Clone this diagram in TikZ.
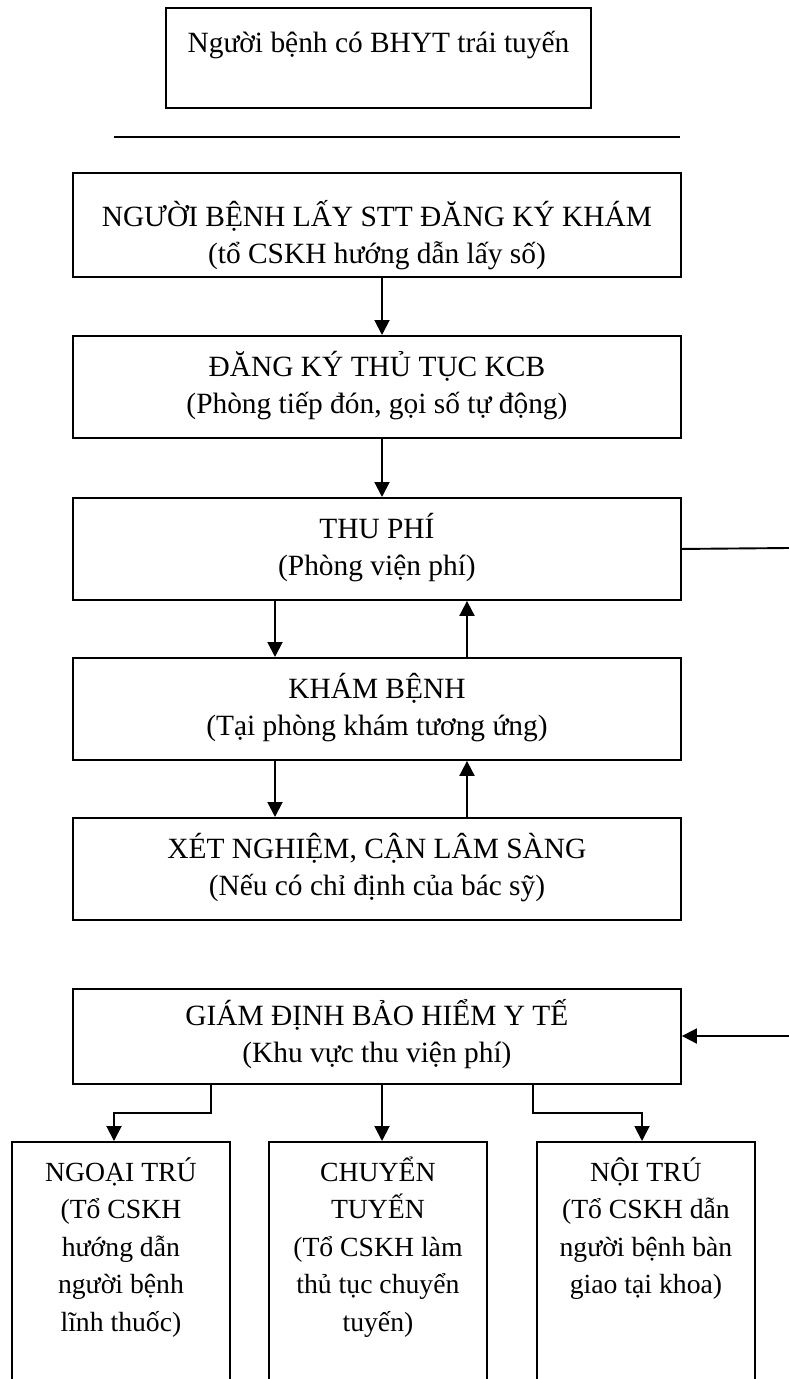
\documentclass[tikz,border=0pt]{standalone}
\usepackage{fontspec}
\setmainfont{Liberation Serif}
\usetikzlibrary{arrows.meta,calc}
\begin{document}
\begin{tikzpicture}[x=1pt,y=-1pt,
  frame/.style={draw=black,line width=1.9pt,inner sep=0pt,anchor=north west},
  mainbox/.style={frame,minimum width=608pt,minimum height=102pt},
  leafbox/.style={frame,minimum width=218pt,minimum height=300pt},
  txt/.style={inner sep=0pt,align=center,anchor=base,font=\fontsize{29.4}{37.5}\selectfont},
  leaftxt/.style={txt,font=\fontsize{27.7}{37.5}\selectfont},
  link/.style={line width=1.9pt},
  arr/.style={link,-{Triangle[length=15pt,width=15pt]}}
]
\clip (0,0) rectangle (789,1379);
\fill[white] (0,0) rectangle (789,1379);

% start box and separator (text anchors sit on the last line's baseline)
\node[frame,minimum width=425pt,minimum height=100pt] (top) at (165,7) {};
\node[txt] (ttop) at ($(top.north)+(0,45)$) {Người bệnh có BHYT trái tuyến};
\coordinate (sepL) at (114,137);
\coordinate (sepR) at (680,137);
\draw[link] (sepL) -- (sepR);

% main column
\node[mainbox,minimum height=104pt] (b1) at (72,172) {};
\node[txt] (t1) at ($(b1.north)+(0,91.5)$) {NGƯỜI BỆNH LẤY STT ĐĂNG KÝ KHÁM\\(tổ CSKH hướng dẫn lấy số)};

\node[mainbox] (b2) at (72,335) {};
\node[txt] (t2) at ($(b2.north)+(0,78.5)$) {ĐĂNG KÝ THỦ TỤC KCB\\(Phòng tiếp đón, gọi số tự động)};

\node[mainbox] (b3) at (72,497) {};
\node[txt] (t3) at ($(b3.north)+(0,78.5)$) {THU PHÍ\\(Phòng viện phí)};

\node[mainbox] (b4) at (72,657) {};
\node[txt] (t4) at ($(b4.north)+(0,78.5)$) {KHÁM BỆNH\\(Tại phòng khám tương ứng)};

\node[mainbox] (b5) at (72,817) {};
\node[txt] (t5) at ($(b5.north)+(0,78.5)$) {XÉT NGHIỆM, CẬN LÂM SÀNG\\(Nếu có chỉ định của bác sỹ)};

\node[mainbox,minimum height=95pt] (g) at (72,988) {};
\node[txt] (tg) at ($(g.north)+(0,74.5)$) {GIÁM ĐỊNH BẢO HIỂM Y TẾ\\(Khu vực thu viện phí)};

% outcome boxes
\node[leafbox] (nl) at (11,1141) {};
\node[leaftxt] (tnl) at ($(nl.north)+(0,190)$) {NGOẠI TRÚ\\(Tổ CSKH\\hướng dẫn\\người bệnh\\lĩnh thuốc)};
\node[leafbox] (nm) at (268,1141) {};
\node[leaftxt] (tnm) at ($(nm.north)+(0,190)$) {CHUYỂN\\TUYẾN\\(Tổ CSKH làm\\thủ tục chuyển\\tuyến)};
\node[leafbox] (nr) at (536,1141) {};
\node[leaftxt] (tnr) at ($(nr.north)+(0,152.5)$) {NỘI TRÚ\\(Tổ CSKH dẫn\\người bệnh bàn\\giao tại khoa)};

% flow arrows
\draw[arr] ($(b1.south west)+(310,0)$) -- ($(b2.north west)+(310,0)$);
\draw[arr] ($(b2.south west)+(310,0)$) -- ($(b3.north west)+(310,0)$);
\draw[arr] ($(b3.south west)+(203,0)$) -- ($(b4.north west)+(203,0)$);
\draw[arr] ($(b4.north west)+(395,0)$) -- ($(b3.south west)+(395,0)$);
\draw[arr] ($(b4.south west)+(203,0)$) -- ($(b5.north west)+(203,0)$);
\draw[arr] ($(b5.north west)+(395,0)$) -- ($(b4.south west)+(395,0)$);

% side return from payment to insurance check
\coordinate (r1) at (789,548);
\coordinate (r2) at (789,1036);
\draw[link] (b3.east) -- (r1);
\draw[arr] (r2) -- (r2 -| g.east);

% branches below insurance check
\draw[arr] ($(g.south west)+(139,0)$) |- ($(nl.north west)+(103,-28)$) -- ($(nl.north west)+(103,0)$);
\draw[arr] ($(g.south west)+(310,0)$) -- ($(nm.north west)+(114,0)$);
\draw[arr] ($(g.south west)+(461,0)$) |- ($(nr.north west)+(106,-28)$) -- ($(nr.north west)+(106,0)$);
\end{tikzpicture}
\end{document}
